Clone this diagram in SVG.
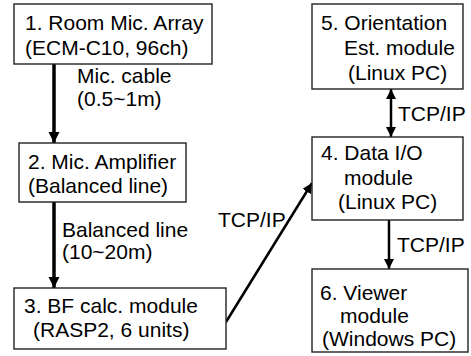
<svg xmlns="http://www.w3.org/2000/svg" width="471" height="356" viewBox="0 0 471 356">
<style>
.box{fill:#fff;stroke:#222;stroke-width:1.4}
text{font-family:"Liberation Sans",Arial,sans-serif;font-size:21px;fill:#000}
.c{stroke:#000;stroke-width:3.5;fill:none}
.d{stroke:#000;stroke-width:2.5;fill:none}
</style>
<defs>
<marker id="ah" viewBox="0 0 10 10" refX="10" refY="5" markerWidth="3.2" markerHeight="3.2" markerUnits="strokeWidth" orient="auto-start-reverse">
<path d="M0,0L10,5L0,10z" fill="#000"/>
</marker>
<marker id="ah2" viewBox="0 0 10 10" refX="10" refY="5" markerWidth="4" markerHeight="4" markerUnits="strokeWidth" orient="auto-start-reverse">
<path d="M0,0L10,5L0,10z" fill="#000"/>
</marker>
</defs>
<rect width="471" height="356" fill="#fff"/>
<g id="connectors">
<line class="c" x1="54" y1="64" x2="54" y2="143" marker-end="url(#ah)"/>
<line class="c" x1="54" y1="202" x2="54" y2="288" marker-end="url(#ah)"/>
<line class="d" x1="226" y1="322" x2="312" y2="183" marker-end="url(#ah2)"/>
<line class="d" x1="391" y1="89" x2="391" y2="137" marker-start="url(#ah2)" marker-end="url(#ah2)"/>
<line class="d" x1="389" y1="220" x2="389" y2="269" marker-end="url(#ah2)"/>
<text x="77" y="83">Mic. cable</text>
<text x="77" y="106">(0.5~1m)</text>
<text x="62" y="237">Balanced line</text>
<text x="62" y="259">(10~20m)</text>
<text x="218" y="227">TCP/IP</text>
<text x="398" y="121">TCP/IP</text>
<text x="397" y="252">TCP/IP</text>
</g>
<g id="node1">
<rect class="box" x="14" y="4" width="198" height="60"/>
<text x="25" y="30">1. Room Mic. Array</text>
<text x="25" y="55">(ECM-C10, 96ch)</text>
</g>
<g id="node2">
<rect class="box" x="19" y="143" width="167" height="59"/>
<text x="28" y="169">2. Mic. Amplifier</text>
<text x="28" y="193">(Balanced line)</text>
</g>
<g id="node3">
<rect class="box" x="14" y="288" width="212" height="61"/>
<text x="24" y="313">3. BF calc. module</text>
<text x="33" y="337">(RASP2, 6 units)</text>
</g>
<g id="node5">
<rect class="box" x="312" y="4" width="151" height="85"/>
<text x="321" y="30">5. Orientation</text>
<text x="344" y="55">Est. module</text>
<text x="348" y="80">(Linux PC)</text>
</g>
<g id="node4">
<rect class="box" x="312" y="137" width="151" height="83"/>
<text x="321" y="160">4. Data I/O</text>
<text x="344" y="185">module</text>
<text x="338" y="209">(Linux PC)</text>
</g>
<g id="node6">
<rect class="box" x="312" y="269" width="156" height="83"/>
<text x="320" y="300">6. Viewer</text>
<text x="340" y="323">module</text>
<text x="322" y="346">(Windows PC)</text>
</g>
</svg>
